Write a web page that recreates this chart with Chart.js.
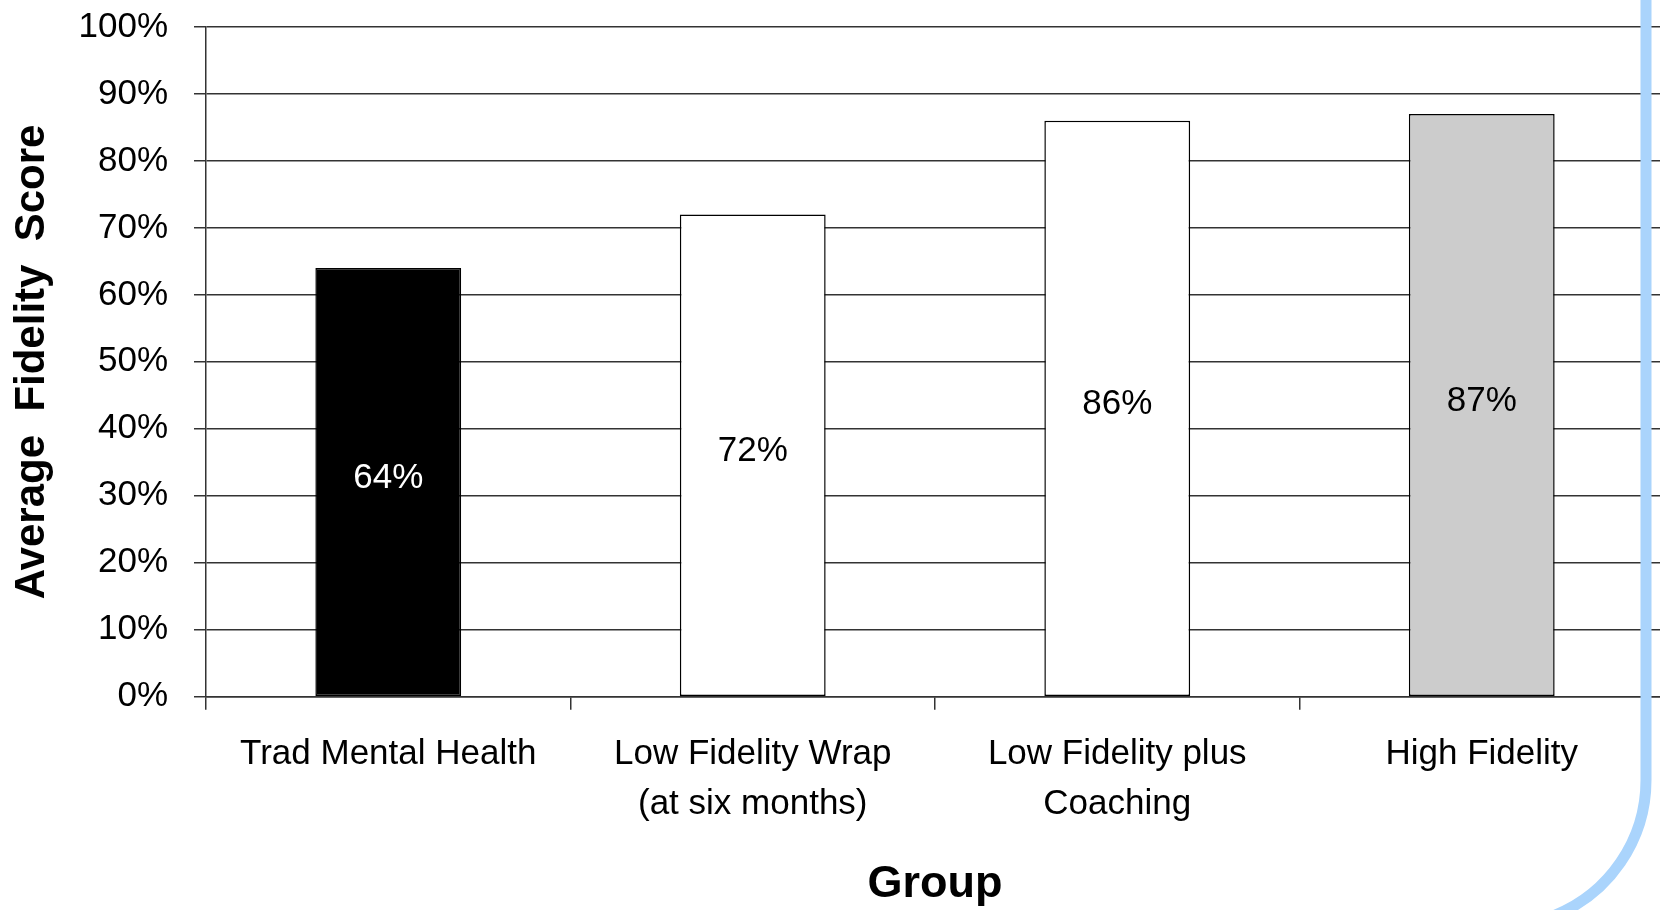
<!DOCTYPE html>
<html>
<head>
<meta charset="utf-8">
<script src="https://cdn.jsdelivr.net/npm/chart.js@4.4.0/dist/chart.umd.min.js"></script>
<style>
  html, body { margin: 0; padding: 0; background: #fff; overflow: hidden; }
  #wrap { position: relative; width: 1664px; height: 910px; }
</style>
</head>
<body>
<div id="wrap"><canvas id="myChart"></canvas></div>
<script>
const categories = [
    'Trad Mental Health',
    ['Low Fidelity Wrap', '(at six months)'],
    ['Low Fidelity plus', 'Coaching'],
    'High Fidelity'
];
const fidelityScores = [64, 72, 86, 87];
const valueLabels = ['64%', '72%', '86%', '87%'];
const yTickValues = [0, 10, 20, 30, 40, 50, 60, 70, 80, 90, 100];

const barColors = ['#000000', '#ffffff', '#ffffff', '#cccccc'];
const labelColors = ['#ffffff', '#000000', '#000000', '#000000'];
const FONT = '"Liberation Sans", Arial, sans-serif';

// values written in the middle of each bar
const barValueLabels = {
    id: 'barValueLabels',
    afterDatasetsDraw(chart) {
        const ctx = chart.ctx;
        const meta = chart.getDatasetMeta(0);
        ctx.save();
        ctx.font = '35px ' + FONT;
        ctx.textAlign = 'center';
        ctx.textBaseline = 'middle';
        meta.data.forEach(function(bar, i) {
            const p = bar.getProps(['x', 'y', 'base'], true);
            ctx.fillStyle = labelColors[i];
            ctx.fillText(valueLabels[i], p.x, (p.y + p.base) / 2 - 4);
        });
        ctx.restore();
    }
};

// light blue slide border on the right
const slideBorder = {
    id: 'slideBorder',
    afterDraw(chart) {
        const ctx = chart.ctx;
        ctx.save();
        ctx.strokeStyle = '#aad4fc';
        ctx.lineWidth = 11;
        ctx.beginPath();
        ctx.moveTo(1646, -10);
        ctx.lineTo(1646, 780);
        ctx.arc(1500, 780, 146, 0, 1.2);
        ctx.stroke();
        ctx.restore();
    }
};

const ctx = document.getElementById('myChart').getContext('2d');
new Chart(ctx, {
    type: 'bar',
    data: {
        labels: categories,
        datasets: [{
            label: 'Average Fidelity Score',
            data: fidelityScores,
            backgroundColor: barColors,
            borderColor: '#000000',
            borderWidth: 1.5,
            borderSkipped: false,
            barPercentage: 0.4,
            categoryPercentage: 1.0
        }]
    },
    options: {
        responsive: true,
        maintainAspectRatio: false,
        animation: false,
        devicePixelRatio: 1,
        layout: {
            padding: { top: 0, left: 0, right: 0, bottom: 0 }
        },
        plugins: {
            legend: { display: false },
            tooltip: { enabled: false }
        },
        scales: {
            y: {
                min: 0,
                max: 100,
                afterBuildTicks: function(axis) {
                    axis.ticks = yTickValues.map(function(v) { return { value: v }; });
                },
                afterFit: function(axis) {
                    axis.width = 206;
                    axis.paddingTop = 27;
                    axis.paddingBottom = 21;
                },
                ticks: {
                    callback: function(v) { return v + '%'; },
                    font: { size: 35, family: FONT },
                    color: '#000',
                    padding: 26
                },
                grid: {
                    color: '#333333',
                    lineWidth: 1.5,
                    tickLength: 12
                },
                border: { display: true, color: '#333333', width: 1.5 },
                title: {
                    display: true,
                    text: 'Average  Fidelity  Score',
                    font: { size: 42, weight: 'bold', family: FONT },
                    color: '#000',
                    padding: { top: 7, bottom: 0 }
                }
            },
            x: {
                grid: {
                    display: true,
                    drawOnChartArea: false,
                    offset: true,
                    color: '#333333',
                    lineWidth: 1.5,
                    tickLength: 13
                },
                border: { display: true, color: '#333333', width: 1.5 },
                ticks: {
                    font: { size: 35, family: FONT, lineHeight: 1.45 },
                    color: '#000',
                    padding: 19,
                    maxRotation: 0,
                    autoSkip: false
                },
                title: {
                    display: true,
                    text: 'Group',
                    font: { size: 45, weight: 'bold', family: FONT, lineHeight: 1.107 },
                    color: '#000',
                    padding: { top: 11, bottom: 0 }
                }
            }
        }
    },
    plugins: [barValueLabels, slideBorder]
});
</script>
</body>
</html>
